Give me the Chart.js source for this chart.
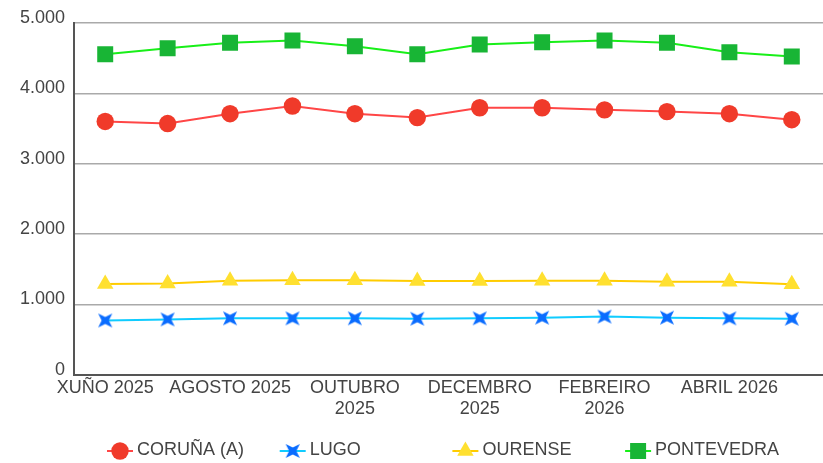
<!DOCTYPE html>
<html>
<head>
<meta charset="utf-8">
<script src="https://cdn.jsdelivr.net/npm/chart.js@4"></script>
<style>
html,body{margin:0;padding:0;background:#fff;overflow:hidden}
canvas{display:block}
</style>
</head>
<body>
<canvas id="chart" width="823" height="463"></canvas>
<script>
// meses
const months = ["XUÑO 2025","XULLO 2025","AGOSTO 2025","SETEMBRO 2025","OUTUBRO 2025","NOVEMBRO 2025",
"DECEMBRO 2025","XANEIRO 2026","FEBREIRO 2026","MARZO 2026","ABRIL 2026","MAIO 2026"]

// etiquetas do eixo X (unha de cada dúas)
const tickLabels = [["XUÑO 2025"],"",["AGOSTO 2025"],"",["OUTUBRO","2025"],"",["DECEMBRO","2025"],"",
["FEBREIRO","2026"],"",["ABRIL 2026"],""]

const coruna = [3600,3570,3710,3820,3710,3655,3795,3795,3765,3740,3710,3625]
const lugo = [770,785,800,800,800,795,800,810,825,810,800,795]
const ourense = [1290,1295,1335,1340,1340,1330,1330,1335,1335,1320,1320,1285]
const pontevedra = [4555,4640,4720,4750,4670,4555,4695,4725,4750,4720,4585,4525]

const yTicks = [0,1000,2000,3000,4000,5000]

const font = "'Liberation Sans', Arial, sans-serif"

// estrela de catro puntas para Lugo
function makeStar(color){
let c = document.createElement("canvas")
c.width = 20
c.height = 20
let g = c.getContext("2d")
g.fillStyle = color
g.beginPath()
for(let k=0;k<8;k++){
let a = Math.PI/4 + k*Math.PI/4
let r = (k%2==0) ? 10 : 3.6
let x = 10 + Math.cos(a)*r
let y = 10 + Math.sin(a)*r
if(k==0) g.moveTo(x,y)
else g.lineTo(x,y)
}
g.closePath()
g.fill()
return c
}

const star = makeStar("#0a6cff")

// lenda en columnas fixas
const legendPlugin = {
id:"fixedLegend",
afterDraw(chart){
const ctx = chart.ctx
ctx.save()
chart.data.datasets.forEach((ds,i)=>{
let x0 = 107 + i*172.7
let y = 451
ctx.strokeStyle = ds.borderColor
ctx.lineWidth = 2
ctx.beginPath()
ctx.moveTo(x0,y)
ctx.lineTo(x0+26,y)
ctx.stroke()
ctx.fillStyle = ds.pointBackgroundColor
ctx.strokeStyle = ds.pointBackgroundColor
Chart.helpers.drawPoint(ctx,{pointStyle:ds.pointStyle,radius:ds.pointRadius,rotation:0,borderWidth:0},x0+13,y)
ctx.fillStyle = "#444"
ctx.font = "18px " + font
ctx.textBaseline = "middle"
ctx.textAlign = "left"
ctx.fillText(ds.label,x0+30,y-1)
})
ctx.restore()
}
}

new Chart(document.getElementById("chart"),{
type:"line",
data:{
labels:months,
datasets:[{
label:"CORUÑA (A)",
data:coruna,
borderColor:"#ff4646",
pointBackgroundColor:"#f03a2a",
pointBorderWidth:0,
pointStyle:"circle",
pointRadius:8.7,
borderWidth:2
},{
label:"LUGO",
data:lugo,
borderColor:"#10ccff",
pointBackgroundColor:"#0a6cff",
pointBorderWidth:0,
pointStyle:star,
pointRadius:9,
borderWidth:2
},{
label:"OURENSE",
data:ourense,
borderColor:"#ffcc00",
pointBackgroundColor:"#ffe030",
pointBorderWidth:0,
pointStyle:"triangle",
pointRadius:9.5,
borderWidth:2
},{
label:"PONTEVEDRA",
data:pontevedra,
borderColor:"#18ef18",
pointBackgroundColor:"#18b535",
pointBorderWidth:0,
pointStyle:"rect",
pointRadius:11.3,
borderWidth:2
}]
},
options:{
responsive:false,
animation:false,
devicePixelRatio:1,
layout:{autoPadding:false,padding:{top:23,right:-5,bottom:41,left:0}},
plugins:{
legend:{display:false},
tooltip:{enabled:false}
},
scales:{
x:{
offset:true,
afterFit:s=>{s.paddingRight=0;s.paddingLeft=0},
grid:{display:false,drawTicks:false},
border:{display:true,color:"#555",width:2},
ticks:{
autoSkip:false,
maxRotation:0,
minRotation:0,
padding:3,
color:"#444",
font:{family:font,size:18,lineHeight:1.15},
callback:(v,i)=>tickLabels[i]
}
},
y:{
min:0,
max:5000,
afterFit:s=>{s.width=74;s.paddingTop=0;s.paddingBottom=0},
afterBuildTicks:s=>{s.ticks = yTicks.map(v=>({value:v}))},
grid:{color:"#aaa",lineWidth:1.5,drawTicks:false},
border:{display:true,color:"#555",width:2},
ticks:{
padding:9,
labelOffset:-5,
color:"#444",
font:{family:font,size:18},
callback:v=>v.toLocaleString("de-DE")
}
}
}
},
plugins:[legendPlugin]
})
</script>
</body>
</html>
